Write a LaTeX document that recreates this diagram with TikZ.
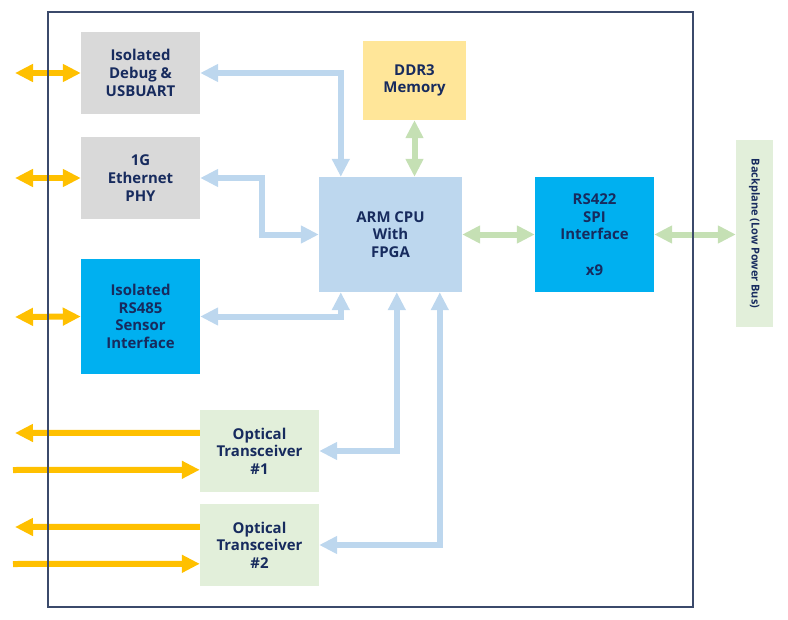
\documentclass[tikz,border=0pt]{standalone}
\usepackage{fontspec}
\setmainfont{Open Sans}
\usetikzlibrary{arrows.meta,calc}
\definecolor{txt}{HTML}{172B5E}
\definecolor{cpublue}{HTML}{BDD7EE}
\definecolor{arrblue}{HTML}{BDD7EE}
\definecolor{boxgray}{HTML}{D9D9D9}
\definecolor{brightblue}{HTML}{00B0F0}
\definecolor{ddryellow}{HTML}{FFE699}
\definecolor{optgreen}{HTML}{E2EFDA}
\definecolor{arrgreen}{HTML}{C5E0B4}
\definecolor{arrorange}{HTML}{FFC000}
\definecolor{framec}{HTML}{3B4A6B}
\tikzset{
  blk/.style={inner sep=0pt, align=center, text=txt,
    font=\fontsize{15}{17.7}\selectfont\bfseries},
  fat/.style={line width=6bp, line cap=butt, line join=miter,
    arrows={Triangle[width=17bp,length=18bp]-Triangle[width=17bp,length=18bp]}},
  fatone/.style={line width=6bp, line cap=butt,
    arrows={-Triangle[width=17bp,length=18bp]}},
}
\begin{document}
\begin{tikzpicture}[x=1bp,y=-1bp]
\useasboundingbox (0,0) rectangle (788,620);
% boxes
\node[blk, fill=boxgray, minimum width=119bp, minimum height=82bp] (dbg) at (140.5,73) {Isolated\\Debug \&\\USBUART};
\node[blk, fill=boxgray, minimum width=119bp, minimum height=82bp] (eth) at (140.5,178) {1G\\Ethernet\\PHY};
\node[blk, fill=brightblue, minimum width=119bp, minimum height=115bp] (rs485) at (140.5,316.5) {Isolated\\RS485\\Sensor\\Interface};
\node[blk, fill=ddryellow, minimum width=103bp, minimum height=79bp] (ddr) at (414.5,80.5) {DDR3\\Memory};
\node[blk, fill=cpublue, minimum width=143bp, minimum height=115bp] (cpu) at (390.5,234.5) {ARM CPU\\With\\FPGA};
\node[blk, fill=brightblue, minimum width=119bp, minimum height=115bp] (rs422) at (594.5,234.5) {RS422\\SPI\\Interface\\[17.7bp]x9};
\node[fill=optgreen, minimum width=37bp, minimum height=187bp, inner sep=0pt] (bp) at (754.5,233.5) {};
\node[rotate=-90, text=txt, font=\fontsize{11}{13}\selectfont\bfseries, inner sep=0pt] (bptext) at (bp.center) {Backplane (Low Power Bus)};
\node[blk, fill=optgreen, minimum width=119bp, minimum height=82bp] (opt1) at (259.5,451) {Optical\\Transceiver\\\#1};
\node[blk, fill=optgreen, minimum width=119bp, minimum height=82bp] (opt2) at (259.5,545) {Optical\\Transceiver\\\#2};
% outside coordinates
\coordinate (o1) at (15,73);
\coordinate (o2) at (15,178);
\coordinate (o3) at (15,317);
\coordinate (o4) at (15,433);
\coordinate (o5) at (13,470);
\coordinate (o6) at (15,527);
\coordinate (o7) at (13,564);
% blue arrows
\draw[fat, draw=arrblue] (dbg.east) -| ($(cpu.north west)+(22,0)$);
\draw[fat, draw=arrblue] (eth.east) -- ++(62,0) |- (cpu.west);
\draw[fat, draw=arrblue] (rs485.east) -| ($(cpu.south west)+(22,0)$);
\draw[fat, draw=arrblue] (opt1.east) -| ($(cpu.south west)+(78,0)$);
\draw[fat, draw=arrblue] (opt2.east) -| ($(cpu.south west)+(121,0)$);
% green arrows
\draw[fat, draw=arrgreen] (ddr.south) -- (ddr.south |- cpu.north);
\draw[fat, draw=arrgreen] (cpu.east) -- (rs422.west);
\draw[fat, draw=arrgreen] (rs422.east) -- (rs422.east -| bp.west);
% orange arrows
\draw[fat, draw=arrorange] (o1) -- (dbg.west);
\draw[fat, draw=arrorange] (o2) -- (eth.west);
\draw[fat, draw=arrorange] (o3) -- (rs485.west);
\draw[fatone, draw=arrorange] ($(opt1.north west)+(0,23)$) -- (o4);
\draw[fatone, draw=arrorange] (o5) -- ($(opt1.north west)+(0,60)$);
\draw[fatone, draw=arrorange] ($(opt2.north west)+(0,23)$) -- (o6);
\draw[fatone, draw=arrorange] (o7) -- ($(opt2.north west)+(0,60)$);
% frame
\draw[framec, line width=1.2bp] (48,12) rectangle (693,607);
\end{tikzpicture}
\end{document}
